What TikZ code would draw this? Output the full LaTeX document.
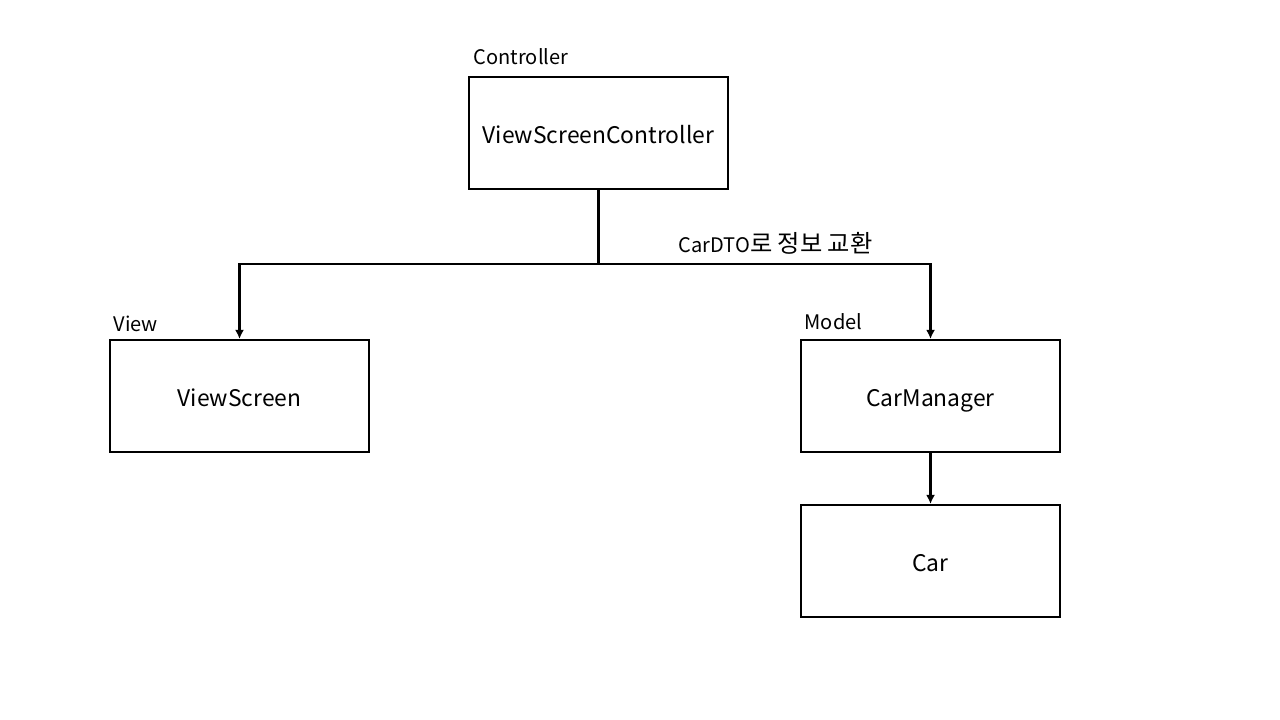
\documentclass[tikz,border=0pt]{standalone}
\usepackage{fontspec}
\setmainfont{Noto Sans CJK KR}
\usepackage{tikz}
\usetikzlibrary{arrows.meta,calc,positioning,shapes}

\begin{document}
\begin{tikzpicture}[every node/.style={draw},
	box/.style={draw,line width=0.6pt,minimum width=2.59cm,minimum height=1.12cm,text height=5.9pt,text depth=0pt,font=\fontsize{6.5}{7}\selectfont},
	tag/.style={draw=none,inner sep=0pt,anchor=base west,font=\fontsize{5.7}{6}\selectfont},
	link/.style={line width=0.6pt,-{Latex[length=2.6pt,width=2.6pt]}}]
	\useasboundingbox (0,0) rectangle (12.8,-7.2);
	\node (ctrl) at (5.985,-1.33) [box] {ViewScreenController};
	\node (view) at (2.395,-3.96) [box] {ViewScreen};
	\node (mgr) at (9.305,-3.96) [box] {CarManager};
	\node (car) at (9.305,-5.61) [box] {Car};

	\node[tag] (ctrltag) at (4.73,-0.65) {Controller};
	\node[tag] (viewtag) at (1.13,-3.32) {View};
	\node[tag] (mgrtag) at (8.04,-3.30) {Model};
	\node[tag] (dto) at (6.78,-2.53) {CarDTO{\fontsize{6.9}{7}\selectfont 로 정보 교환}};

	\coordinate (split) at (5.985,-2.64);
	\draw[line width=0.6pt] (ctrl.south) -- (split);
	\draw[link] (split) -| (view.north);
	\draw[link] (split) -| (mgr.north);
	\draw[link] (mgr) -- (car);
\end{tikzpicture}
\end{document}
